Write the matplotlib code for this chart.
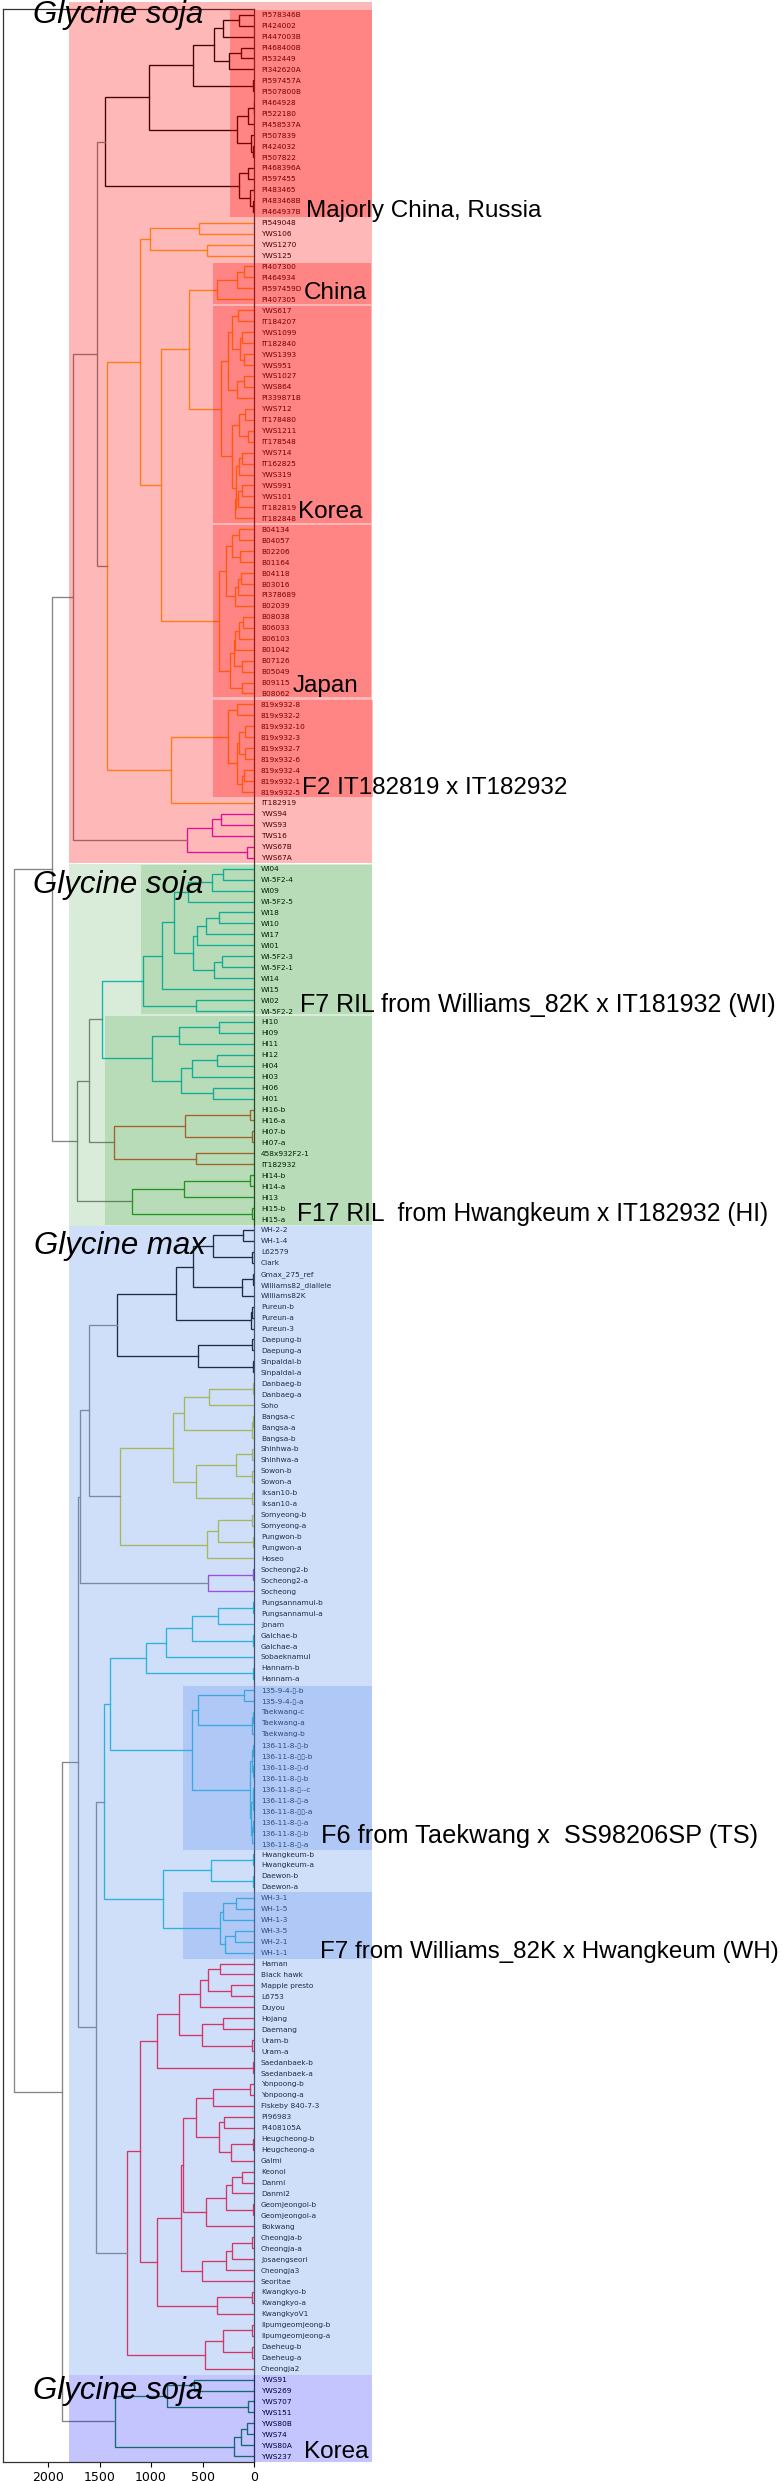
import matplotlib
matplotlib.use("Agg")
import matplotlib.pyplot as plt
import matplotlib.transforms as mtransforms
from matplotlib.patches import Rectangle

# ---------------- data ----------------
B = "\u25af"
leaf_labels = [
    "PI578346B", "PI424002", "PI447003B", "PI468400B", "PI532449", "PI342620A", "PI597457A", "PI507800B",
    "PI464928", "PI522180", "PI458537A", "PI507839", "PI424032", "PI507822", "PI468396A", "PI597455",
    "PI483465", "PI483468B", "PI464937B", "PI549048", "YWS106", "YWS1270", "YWS125", "PI407300",
    "PI464934", "PI597459D", "PI407305", "YWS617", "IT184207", "YWS1099", "IT182840", "YWS1393",
    "YWS951", "YWS1027", "YWS864", "PI339871B", "YWS712", "IT178480", "YWS1211", "IT178548",
    "YWS714", "IT162825", "YWS319", "YWS991", "YWS101", "IT182819", "IT182848", "B04134",
    "B04057", "B02206", "B01164", "B04118", "B03016", "PI378689", "B02039", "B08038",
    "B06033", "B06103", "B01042", "B07126", "B05049", "B09115", "B08062", "819x932-8",
    "819x932-2", "819x932-10", "819x932-3", "819x932-7", "819x932-6", "819x932-4", "819x932-1", "819x932-5",
    "IT182919", "YWS94", "YWS93", "TWS16", "YWS67B", "YWS67A",
    "WI04", "WI-5F2-4", "WI09", "WI-5F2-5", "WI18", "WI10", "WI17", "WI01", "WI-5F2-3", "WI-5F2-1",
    "WI14", "WI15", "WI02", "WI-5F2-2", "HI10", "HI09", "HI11", "HI12", "HI04", "HI03", "HI06", "HI01",
    "HI16-b", "HI16-a", "HI07-b", "HI07-a", "458x932F2-1", "IT182932", "HI14-b", "HI14-a", "HI13",
    "HI15-b", "HI15-a",
    "WH-2-2", "WH-1-4", "L62579", "Clark", "Gmax_275_ref", "Williams82_diallele", "Williams82K",
    "Pureun-b", "Pureun-a", "Pureun-3", "Daepung-b", "Daepung-a", "Sinpaldal-b", "Sinpaldal-a",
    "Danbaeg-b", "Danbaeg-a", "Soho", "Bangsa-c", "Bangsa-a", "Bangsa-b", "Shinhwa-b", "Shinhwa-a",
    "Sowon-b", "Sowon-a", "Iksan10-b", "Iksan10-a", "Somyeong-b", "Somyeong-a", "Pungwon-b", "Pungwon-a",
    "Hoseo", "Socheong2-b", "Socheong2-a", "Socheong", "Pungsannamul-b", "Pungsannamul-a", "Jonam",
    "Galchae-b", "Galchae-a", "Sobaeknamul", "Hannam-b", "Hannam-a",
    "135-9-4-" + B + "-b", "135-9-4-" + B + "-a", "Taekwang-c", "Taekwang-a", "Taekwang-b",
    "136-11-8-" + B + "-b", "136-11-8-" + B + B + "-b", "136-11-8-" + B + "-d", "136-11-8-" + B + "-b",
    "136-11-8-" + B + "--c", "136-11-8-" + B + "-a", "136-11-8-" + B + B + "-a", "136-11-8-" + B + "-a",
    "136-11-8-" + B + "-b", "136-11-8-" + B + "-a",
    "Hwangkeum-b", "Hwangkeum-a", "Daewon-b", "Daewon-a", "WH-3-1", "WH-1-5", "WH-1-3", "WH-3-5",
    "WH-2-1", "WH-1-1", "Haman", "Black hawk", "Mapple presto", "L6753", "Duyou", "Hojang", "Daemang",
    "Uram-b", "Uram-a", "Saedanbaek-b", "Saedanbaek-a", "Yonpoong-b", "Yonpoong-a", "Fiskeby 840-7-3",
    "PI96983", "PI408105A", "Heugcheong-b", "Heugcheong-a", "Galmi", "Keonol", "Danmi", "Danmi2",
    "Geomjeongol-b", "Geomjeongol-a", "Bokwang", "Cheongja-b", "Cheongja-a", "Josaengseori", "Cheongja3",
    "Seoritae", "Kwangkyo-b", "Kwangkyo-a", "KwangkyoV1", "Ilpumgeomjeong-b", "Ilpumgeomjeong-a",
    "Daeheug-b", "Daeheug-a", "Cheongja2",
    "YWS91", "YWS269", "YWS707", "YWS151", "YWS80B", "YWS74", "YWS80A", "YWS237",
]

# clades: [merge height, left, right]; ints are leaf indices
soja_a = [594, [391, [300, [145, 0, 1], 2], [245, [132, 3, 4], 5]], [10, 6, 7]]
soja_b = [171, [58, [6, 8, 9], 10], [30, 11, [8, 12, 13]]]
soja_c = [145, [58, 14, 15], [40, 16, [10, 17, 18]]]
soja_black = [1447, [1024, soja_a, soja_b], soja_c]
china = [358, [171, [97, 23, 24], 25], 26]
korea = [323, [252, [213, [161, 27, 28], [142, [123, 29, 30], [97, 31, 32]]], [171, [97, 33, 34], 35]],
         [213, [145, [90, 36, 37], [58, 38, 39]],
          [180, [145, [116, 40, 41], 42], [187, [155, [116, 43, 44], 45], 46]]]]
japan = [339, [275, [213, [145, 47, 48], [139, 49, 50]], [187, [155, [132, 51, 52], 53], 54]],
         [236, [200, [187, [145, [107, 55, 56], 57], 58], [116, 59, 60]], [116, 61, 62]]]
f2 = [252, [171, 63, 64], [165, [145, [90, 65, 66], [90, 67, 68]], [122, [100, 69, 70], 71]]]
orange = [1431, [1108, [1011, [536, 19, 20], [462, 21, 22]], [904, [630, china, korea], japan]],
          [807, f2, 72]]
magenta = [656, [413, [323, 73, 74], 75], [74, 76, 77]]
pink_root = [1760, [1528, soja_black, orange], magenta]

wi = [1076, [891, [775, [646, [413, [307, 78, 79], 80], 81],
                   [591, [559, [472, [339, 82, 83], 84], 85], [388, [317, 86, 87], 88]]], 89],
      [565, 90, 91]]
hi_a = [988, [730, [339, 92, 93], 94], [714, [601, [365, 95, 96], 97], [397, 98, 99]]]
teal = [1479, wi, hi_a]
brick = [1360, [672, [42, 100, 101], [19, 102, 103]], [568, 104, 105]]
green_c = [1182, [682, [42, 106, 107], 108], [19, 109, 110]]
green_root = [1715, [1599, teal, brick], green_c]

black_max = [1334, [762, [598, [404, [107, 111, 112], [26, 113, 114]], [116, [10, 115, 116], 117]],
                    [36, [19, 118, 119], 120]],
             [543, [19, 121, 122], [10, 123, 124]]]
olive = [1302, [785, [682, [436, [10, 125, 126], 127], [19, [10, 128, 129], 130]],
                [565, [178, [19, 131, 132], [19, 133, 134]], [19, 135, 136]]],
         [462, [349, [19, 137, 138], [10, 139, 140]], 141]]
violet = [452, [10, 142, 143], 144]
cyan_a = [1050, [854, [607, [355, [10, 145, 146], 147], [10, 148, 149]], 150], [10, 151, 152]]
c136 = [42, [25, [8, 158, 159], [12, 160, 161]], [30, [15, [8, 162, 163], 164], [20, [8, 165, 166], 167]]]
cyan_b = [607, [549, [97, 153, 154], [19, [10, 155, 156], 157]], c136]
wh = [889, [423, [10, 168, 169], [10, 170, 171]], [333, [307, [181, 172, 173], 174], [284, [187, 175, 176], 177]]]
cyan = [1457, [1402, cyan_a, cyan_b], wh]
red = [1237,
       [1108,
        [946, [730, [526, [452, [333, 178, 179], [226, 180, 181]], 182], [504, [307, 183, 184], [19, 185, 186]]],
         [10, 187, 188]],
        [940, [711, [688, [565, [404, [42, 189, 190], 191], [342, [291, 192, 193], [229, [10, 194, 195], 196]]],
                     [468, [275, [213, [123, 197, 198], 199], [10, 200, 201]], 202]],
               [510, [275, [220, [19, 203, 204], 205], 206], 207]],
         [365, [19, 208, 209], 210]]],
       [478, [300, [19, 211, 212], [19, 213, 214]], 215]]
gmax_root = [1712, [1686, [1599, black_max, olive], violet], [1534, cyan, red]]
soja_korea = [1350, [843, [581, 216, 217], [65, 218, 219]], [197, [129, [74, 220, 221], 222], 223]]
tree_root = [2329, [1957, pink_root, green_root], [1867, gmax_root, soja_korea]]

x_ticks = [2000, 1500, 1000, 500, 0]

# ---------------- styling ----------------
clade_colors = [
    (soja_black, "#000000"), (orange, "#ffac1c"), (magenta, "#d416d6"),
    (teal, "#17becf"), (brick, "#e2583c"), (green_c, "#2ca02c"),
    (black_max, "#000000"), (olive, "#c2c820"), (violet, "#b52ee0"),
    (cyan, "#12c0d6"), (red, "#ff1030"), (soja_korea, "#1a8a4a"),
]
color_of = {id(c): col for c, col in clade_colors}
GRAY = "#858585"

W, H = 782, 2481
fig = plt.figure(figsize=(W / 100, H / 100), dpi=100)
fig.patch.set_facecolor("white")
ax_l, ax_r, ax_t, ax_b = 2.7, 254.3, 9.2, 2461.7
ax = fig.add_axes([ax_l / W, 1 - ax_b / H, (ax_r - ax_l) / W, (ax_b - ax_t) / H])

n = len(leaf_labels)


def draw(node, color):
    if isinstance(node, int):
        return 0.0, float(node)
    c = color_of.get(id(node), color)
    h, a, b = node
    ha, ya = draw(a, c)
    hb, yb = draw(b, c)
    ax.plot([ha, h, h, hb], [ya, ya, yb, yb], color=c, lw=0.95, solid_joinstyle="miter", zorder=2)
    return h, (ya + yb) / 2


draw(tree_root, GRAY)

ax.set_xlim(2438, 0)
ax.set_ylim(n - 0.5, -0.5)
ax.set_xticks(x_ticks)
ax.set_xticklabels([str(t) for t in x_ticks], fontsize=9)
ax.yaxis.tick_right()
ax.set_yticks(range(n))
ax.set_yticklabels(leaf_labels, fontsize=5.3, family="DejaVu Sans")
ax.tick_params(axis="y", length=0, pad=4.8)
for s in ax.spines.values():
    s.set_color("#333333")
    s.set_linewidth(0.9)

# ---------------- shaded regions (drawn above, tinting lines and labels) ----------------
trans = mtransforms.blended_transform_factory(fig.transFigure, ax.transData)
regions = [
    # x0 px, x1 px, y0 leaf, y1 leaf, color, alpha
    (69, 372, -1.16, 77.47, "#ff0000", 0.28),
    (230, 372, -0.43, 18.48, "#ff0000", 0.28),
    (212.7, 371, 22.71, 26.43, "#ff0000", 0.28),
    (212.7, 371, 26.58, 46.46, "#ff0000", 0.28),
    (212.7, 371, 46.62, 62.36, "#ff0000", 0.28),
    (212.7, 373, 62.60, 71.44, "#ff0000", 0.28),
    (69, 372, 77.56, 110.62, "#008000", 0.15),
    (141.3, 372, 77.68, 91.28, "#008000", 0.15),
    (105, 372, 91.47, 110.56, "#008000", 0.15),
    (69, 372, 110.65, 215.55, "#6495ed", 0.30),
    (182.7, 372, 152.67, 167.65, "#6495ed", 0.30),
    (182.7, 372, 171.46, 177.63, "#6495ed", 0.30),
    (69.3, 372, 215.6, 223.5, "#0000ff", 0.23),
]
for x0, x1, y0, y1, col, a in regions:
    ax.add_patch(Rectangle((x0 / W, y0), (x1 - x0) / W, y1 - y0, transform=trans,
                           facecolor=col, alpha=a, edgecolor="none", clip_on=False, zorder=5))

# ---------------- annotations ----------------
annotations = [
    # text, x px, baseline y px, italic, size
    ("Glycine soja", 33, 23, True, 22.5),
    ("Majorly China, Russia", 305.7, 216.7, False, 17.5),
    ("China", 304, 299.3, False, 17.5),
    ("Korea", 298, 518.3, False, 17.5),
    ("Japan", 292.7, 692.3, False, 17.5),
    ("F2 IT182819 x IT182932", 301.7, 794.3, False, 17.5),
    ("Glycine soja", 33, 892.7, True, 22.5),
    ("F7 RIL from Williams_82K x IT181932 (WI)", 300, 1011.7, False, 18),
    ("F17 RIL  from Hwangkeum x IT182932 (HI)", 296.7, 1221, False, 17.7),
    ("Glycine max", 34, 1254, True, 22.5),
    ("F6 from Taekwang x  SS98206SP (TS)", 321, 1843.3, False, 18.3),
    ("F7 from Williams_82K x Hwangkeum (WH)", 320, 1958.3, False, 17.4),
    ("Glycine soja", 33, 2399, True, 22.5),
    ("Korea", 304, 2457.7, False, 17.5),
]
for txt, x, y, it, fs in annotations:
    fig.text(x / W, 1 - y / H, txt, ha="left", va="baseline",
             fontsize=fs, style="italic" if it else "normal",
             family="Liberation Sans", color="black", zorder=10)

fig.savefig("out.png", dpi=100, facecolor="white")
